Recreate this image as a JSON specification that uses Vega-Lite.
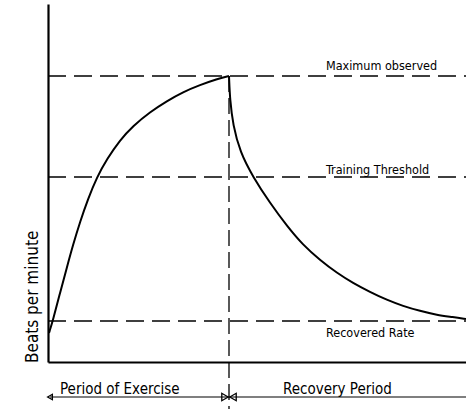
{
  "$schema": "https://vega.github.io/schema/vega-lite/v6.json",
  "width": 418,
  "height": 358,
  "padding": {"left": 48, "top": 4, "right": 0, "bottom": 47},
  "autosize": {"type": "none"},
  "background": "white",
  "config": {"view": {"stroke": null}, "font": "'DejaVu Sans Condensed', sans-serif"},
  "datasets": {
    "curve": [
      {"seg": "exercise", "t": 1, "bpm": 29, "o": 1},
      {"seg": "exercise", "t": 5, "bpm": 42, "o": 2},
      {"seg": "exercise", "t": 12, "bpm": 69, "o": 3},
      {"seg": "exercise", "t": 19, "bpm": 95, "o": 4},
      {"seg": "exercise", "t": 25, "bpm": 117, "o": 5},
      {"seg": "exercise", "t": 32, "bpm": 140, "o": 6},
      {"seg": "exercise", "t": 40, "bpm": 163, "o": 7},
      {"seg": "exercise", "t": 49, "bpm": 185, "o": 8},
      {"seg": "exercise", "t": 59, "bpm": 203, "o": 9},
      {"seg": "exercise", "t": 72, "bpm": 222, "o": 10},
      {"seg": "exercise", "t": 85, "bpm": 236, "o": 11},
      {"seg": "exercise", "t": 102, "bpm": 250, "o": 12},
      {"seg": "exercise", "t": 119, "bpm": 261, "o": 13},
      {"seg": "exercise", "t": 135, "bpm": 270, "o": 14},
      {"seg": "exercise", "t": 152, "bpm": 277, "o": 15},
      {"seg": "exercise", "t": 169, "bpm": 283, "o": 16},
      {"seg": "exercise", "t": 181, "bpm": 286, "o": 17},
      {"seg": "recovery", "t": 181, "bpm": 286, "o": 18},
      {"seg": "recovery", "t": 182, "bpm": 262, "o": 19},
      {"seg": "recovery", "t": 185, "bpm": 237, "o": 20},
      {"seg": "recovery", "t": 192, "bpm": 210, "o": 21},
      {"seg": "recovery", "t": 205, "bpm": 185, "o": 22},
      {"seg": "recovery", "t": 222, "bpm": 159, "o": 23},
      {"seg": "recovery", "t": 239, "bpm": 136, "o": 24},
      {"seg": "recovery", "t": 255, "bpm": 117, "o": 25},
      {"seg": "recovery", "t": 272, "bpm": 102, "o": 26},
      {"seg": "recovery", "t": 289, "bpm": 89, "o": 27},
      {"seg": "recovery", "t": 305, "bpm": 79, "o": 28},
      {"seg": "recovery", "t": 322, "bpm": 70, "o": 29},
      {"seg": "recovery", "t": 339, "bpm": 62, "o": 30},
      {"seg": "recovery", "t": 355, "bpm": 56, "o": 31},
      {"seg": "recovery", "t": 372, "bpm": 51, "o": 32},
      {"seg": "recovery", "t": 389, "bpm": 47, "o": 33},
      {"seg": "recovery", "t": 405, "bpm": 45, "o": 34},
      {"seg": "recovery", "t": 418, "bpm": 43, "o": 35}
    ],
    "levels": [
      {"level": "Maximum observed", "bpm": 286, "ly": 296},
      {"level": "Training Threshold", "bpm": 185, "ly": 192},
      {"level": "Recovered Rate", "bpm": 41, "ly": 29}
    ],
    "periods": [
      {"label": "Period of Exercise", "t": 12, "y": -27},
      {"label": "Recovery Period", "t": 235, "y": -27}
    ],
    "markers": [
      {"t": 2, "y": -35, "shape": "triangle-left", "s": 30},
      {"t": 177, "y": -35, "shape": "triangle-right", "s": 55},
      {"t": 185, "y": -35, "shape": "triangle-left", "s": 55}
    ]
  },
  "layer": [
    {
      "data": {"name": "levels"},
      "mark": {"type": "rule", "color": "black", "strokeWidth": 1.3, "strokeDash": [18, 8]},
      "encoding": {
        "y": {"field": "bpm", "type": "quantitative", "scale": {"domain": [0, 358], "nice": false, "zero": false},
              "axis": {"title": null, "labels": false, "ticks": false, "grid": false, "domainColor": "black", "domainWidth": 2.2}},
        "x": {"datum": 0, "type": "quantitative"},
        "x2": {"datum": 418}
      }
    },
    {
      "data": {"values": [{"t": 181, "top": 286, "bot": -47}]},
      "mark": {"type": "rule", "color": "black", "strokeWidth": 1.3, "strokeDash": [16, 6]},
      "encoding": {
        "x": {"field": "t", "type": "quantitative"},
        "y": {"field": "top", "type": "quantitative"},
        "y2": {"field": "bot"}
      }
    },
    {
      "data": {"name": "curve"},
      "mark": {"type": "line", "color": "black", "strokeWidth": 2, "interpolate": "basis"},
      "encoding": {
        "x": {"field": "t", "type": "quantitative", "scale": {"domain": [0, 418], "nice": false, "zero": false},
              "axis": {"title": null, "labels": false, "ticks": false, "grid": false, "domainColor": "black", "domainWidth": 2.2}},
        "y": {"field": "bpm", "type": "quantitative"},
        "detail": {"field": "seg", "type": "nominal"},
        "order": {"field": "o", "type": "quantitative"}
      }
    },
    {
      "data": {"name": "levels"},
      "mark": {"type": "text", "align": "left", "baseline": "middle", "fontSize": 12.5, "color": "black"},
      "encoding": {
        "x": {"datum": 278, "type": "quantitative"},
        "y": {"field": "ly", "type": "quantitative"},
        "text": {"field": "level"}
      }
    },
    {
      "data": {"name": "periods"},
      "mark": {"type": "text", "align": "left", "baseline": "middle", "fontSize": 15, "color": "black"},
      "encoding": {
        "x": {"field": "t", "type": "quantitative"},
        "y": {"field": "y", "type": "quantitative"},
        "text": {"field": "label"}
      }
    },
    {
      "data": {"values": [{"a": 2, "b": 418, "y": -35}]},
      "mark": {"type": "rule", "color": "black", "strokeWidth": 1.2},
      "encoding": {
        "x": {"field": "a", "type": "quantitative"},
        "x2": {"field": "b"},
        "y": {"field": "y", "type": "quantitative"}
      }
    },
    {
      "data": {"name": "markers"},
      "mark": {"type": "point", "filled": false, "color": "black", "strokeWidth": 1.3, "opacity": 1},
      "encoding": {
        "x": {"field": "t", "type": "quantitative"},
        "y": {"field": "y", "type": "quantitative"},
        "shape": {"field": "shape", "type": "nominal", "scale": null},
        "size": {"field": "s", "type": "quantitative", "scale": null}
      }
    },
    {
      "data": {"values": [{"label": "Beats per minute"}]},
      "mark": {"type": "text", "align": "left", "baseline": "middle", "angle": 270, "fontSize": 17, "color": "black"},
      "encoding": {
        "x": {"datum": -15, "type": "quantitative"},
        "y": {"datum": -1, "type": "quantitative"},
        "text": {"field": "label"}
      }
    }
  ]
}
